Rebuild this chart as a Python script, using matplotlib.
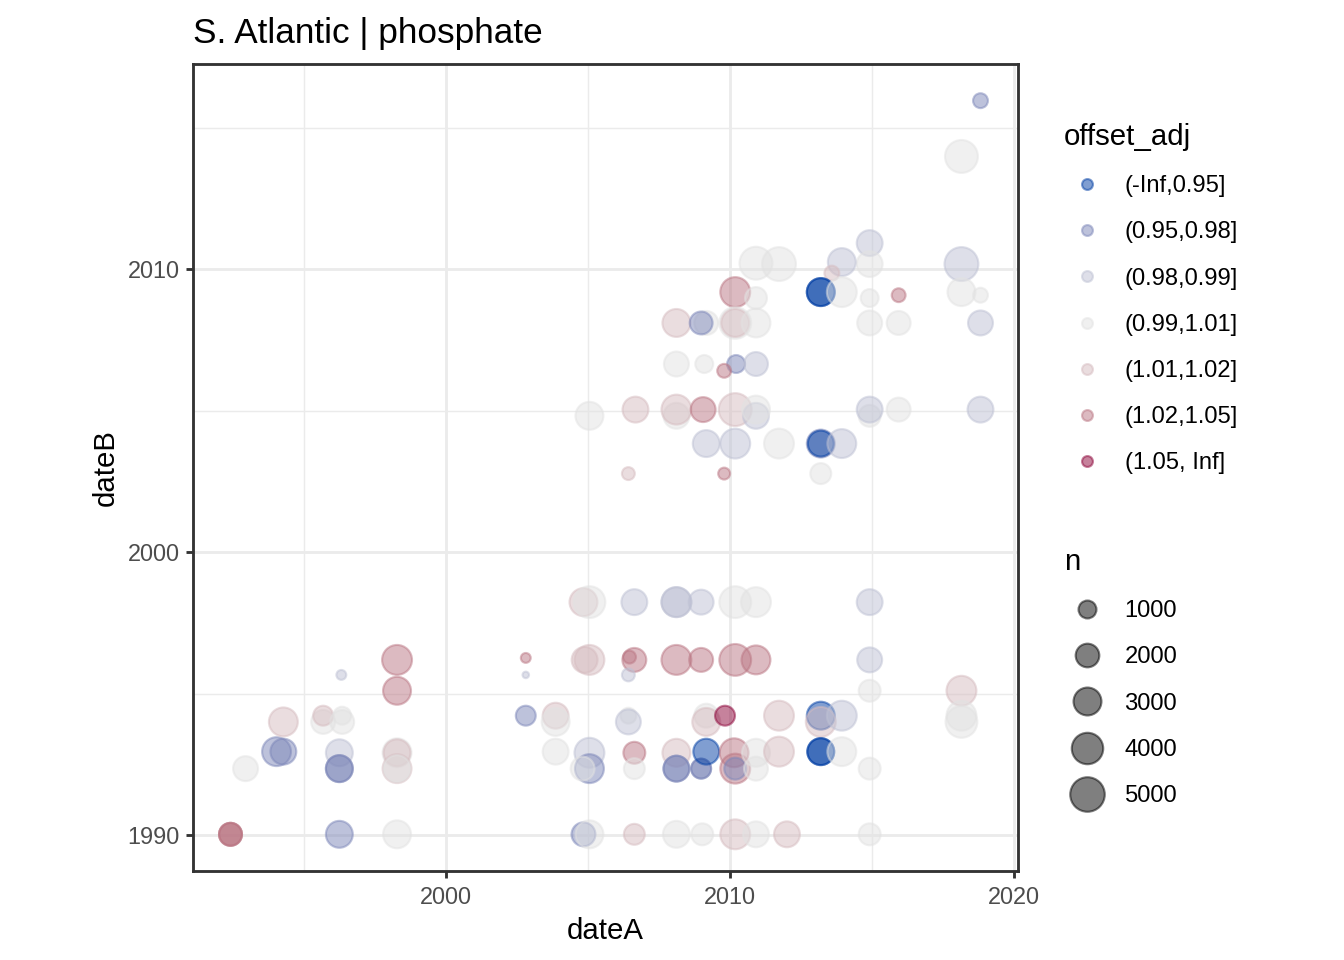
import matplotlib
matplotlib.use('Agg')
import matplotlib.pyplot as plt
from matplotlib.lines import Line2D
from matplotlib.colors import to_rgba
import numpy as np

plt.rcParams['font.family'] = ['Liberation Sans', 'DejaVu Sans']

# categories of offset_adj and their colours (diverging blue-red)
offset_labels = ['(-Inf,0.95]', '(0.95,0.98]', '(0.98,0.99]', '(0.99,1.01]',
                 '(1.01,1.02]', '(1.02,1.05]', '(1.05, Inf]']
offset_colors = ['#023FA5', '#7D87B9', '#BEC1D4', '#E2E2E2',
                 '#D6BCC0', '#BB7784', '#8E063B']
n_breaks = [1000, 2000, 3000, 4000, 5000]

# crossover points (repeated rows are stacked points)
date_a = [
    1992.42, 1992.42, 1992.42, 1992.95, 1994.04, 1994.28, 1994.28, 1995.68, 1995.68, 1996.35,
    1996.35, 1996.32, 1996.25, 1996.25, 1996.25, 1996.25, 1998.28, 1998.28, 1998.28, 1998.28,
    1998.28, 1998.28, 1998.28, 2002.81, 2002.81, 2002.81, 2003.86, 2003.86, 2003.86, 2004.84,
    2005.05, 2004.88, 2005.05, 2005.05, 2005.05, 2004.81, 2004.84, 2005.05, 2006.63, 2006.63,
    2006.46, 2006.42, 2006.42, 2006.42, 2006.63, 2006.63, 2006.63, 2008.11, 2008.11, 2008.98,
    2008.11, 2008.98, 2009.16, 2009.16, 2009.82, 2008.11, 2008.11, 2008.11, 2008.98, 2008.98,
    2009.16, 2010.14, 2010.18, 2010.18, 2010.91, 2010.91, 2008.11, 2009.02, 2010.18, 2010.91,
    2012.00, 2010.18, 2010.91, 2010.18, 2010.91, 2011.72, 2011.72, 2013.19, 2013.19, 2013.93,
    2013.19, 2013.19, 2013.93, 2014.91, 2014.91, 2014.91, 2014.91, 2014.91, 2018.14, 2018.14,
    2018.14,
    2018.81, 2018.14, 2010.91, 2011.72, 2014.91, 2014.91, 2013.93, 2013.58, 2018.14, 2010.18,
    2010.91, 2013.19, 2013.19, 2013.93, 2014.91, 2015.93, 2018.14, 2018.81, 2008.11, 2009.16,
    2008.98, 2010.18, 2010.18, 2010.91, 2014.91, 2015.93, 2018.81, 2008.11, 2009.09, 2010.21,
    2010.91, 2009.79, 2005.05, 2006.67, 2008.11, 2008.11, 2009.05, 2010.18, 2010.91, 2010.91,
    2014.91, 2014.91, 2015.93, 2018.81, 2009.16, 2010.18, 2011.72, 2013.19, 2013.19, 2013.93,
    2006.42, 2009.79, 2013.19,
]
date_b = [
    1990.04, 1990.04, 1990.04, 1992.36, 1992.96, 1992.96, 1994.01, 1994.01, 1994.23, 1994.23,
    1994.01, 1995.67, 1992.92, 1992.36, 1992.36, 1990.04, 1996.20, 1995.11, 1992.92, 1992.92,
    1992.36, 1992.36, 1990.04, 1996.27, 1995.67, 1994.23, 1994.23, 1994.01, 1992.96, 1998.24,
    1998.24, 1996.20, 1996.20, 1992.92, 1992.36, 1992.36, 1990.04, 1990.04, 1998.24, 1996.20,
    1996.30, 1995.67, 1994.23, 1994.01, 1992.92, 1992.36, 1990.04, 1998.24, 1998.24, 1998.24,
    1996.20, 1996.20, 1994.23, 1994.01, 1994.23, 1992.92, 1992.36, 1992.36, 1992.36, 1992.36,
    1992.96, 1992.92, 1992.36, 1992.36, 1992.92, 1992.36, 1990.04, 1990.04, 1990.04, 1990.04,
    1990.04, 1998.24, 1998.24, 1996.20, 1996.20, 1994.23, 1992.96, 1994.23, 1994.01, 1994.23,
    1992.96, 1992.96, 1992.96, 1998.24, 1996.20, 1995.11, 1992.36, 1990.04, 1995.11, 1994.23,
    1994.01,
    2015.95, 2013.98, 2010.21, 2010.18, 2010.92, 2010.18, 2010.25, 2009.86, 2010.18, 2009.19,
    2008.98, 2009.19, 2009.19, 2009.19, 2008.98, 2009.08, 2009.19, 2009.08, 2008.10, 2008.10,
    2008.10, 2008.10, 2008.10, 2008.10, 2008.10, 2008.10, 2008.10, 2006.65, 2006.65, 2006.65,
    2006.65, 2006.41, 2004.82, 2005.04, 2004.82, 2005.04, 2005.04, 2005.04, 2004.82, 2005.04,
    2004.82, 2005.04, 2005.04, 2005.04, 2003.84, 2003.84, 2003.84, 2003.84, 2003.84, 2003.84,
    2002.78, 2002.78, 2002.78,
]
n_obs = [
    1840, 1840, 1840, 2270, 3260, 2490, 3260, 2050, 1300, 1000,
    2050, 270, 2740, 2740, 2740, 2740, 3540, 3000, 3260, 2740,
    3260, 2740, 3000, 270, 200, 1300, 2490, 3000, 2490, 3000,
    4100, 2490, 3540, 3540, 3260, 2050, 2050, 3000, 2490, 2050,
    450, 450, 740, 2270, 1650, 1470, 1470, 3540, 3540, 2270,
    3540, 2050, 2050, 3000, 1300, 3000, 2490, 2490, 1300, 1300,
    2490, 3260, 3540, 1650, 3000, 2050, 2740, 1650, 3540, 2490,
    2490, 4100, 3540, 4100, 3260, 3540, 3540, 3000, 3540, 3540,
    2740, 2740, 3260, 2490, 2270, 1650, 1650, 1650, 3540, 3540,
    4100,
    630, 4450, 4450, 4770, 2490, 2490, 3000, 630, 4770, 3540,
    1650, 3000, 3000, 3540, 1000, 530, 3000, 630, 3000, 2050,
    1840, 4100, 3000, 3260, 2270, 2050, 2270, 2270, 1000, 1000,
    2050, 530, 3000, 2490, 2490, 3540, 2270, 4450, 2490, 3000,
    1650, 2490, 2050, 2490, 2740, 3540, 3540, 3000, 2490, 3260,
    450, 380, 1470,
]
offset_bin = [
    5, 5, 5, 3, 1, 1, 4, 3, 4, 3,
    3, 2, 2, 1, 1, 1, 5, 5, 3, 4,
    4, 3, 3, 5, 2, 1, 4, 3, 3, 4,
    3, 4, 4, 2, 1, 3, 1, 3, 2, 5,
    5, 2, 3, 2, 5, 3, 4, 2, 2, 2,
    5, 5, 3, 4, 6, 4, 1, 1, 1, 1,
    0, 5, 5, 1, 3, 3, 3, 3, 4, 3,
    4, 3, 3, 5, 5, 4, 4, 0, 4, 2,
    0, 0, 3, 2, 2, 3, 3, 3, 4, 3,
    3,
    1, 3, 3, 3, 2, 3, 2, 4, 2, 5,
    3, 0, 0, 3, 3, 5, 3, 3, 4, 3,
    1, 3, 4, 3, 3, 3, 2, 3, 3, 1,
    2, 5, 3, 4, 3, 4, 5, 4, 2, 3,
    3, 2, 3, 2, 2, 2, 3, 1, 0, 2,
    4, 5, 3,
]

DPI = 192
PX_PT = DPI / 72
EDGE = 0.8
ALPHA = 0.5


def point_diameter(n):
    # size scale (area grows with n)
    t = np.clip((np.asarray(n, float) - 200) / 8800, 0, 1)
    d_px = 7.6 * (1 + 5 * np.sqrt(t)) + 1
    return d_px / PX_PT - EDGE


fig = plt.figure(figsize=(7, 5), dpi=DPI)
ax = fig.add_axes([193 / 1344, 1 - 871 / 960, 825 / 1344, 807 / 960])

cols = [to_rgba(offset_colors[k], ALPHA) for k in offset_bin]
ax.scatter(date_a, date_b, s=point_diameter(n_obs) ** 2, c=cols,
           edgecolors=cols, linewidths=EDGE, zorder=3)

# ggplot-like 5% expansion
xa, xb = min(date_a), max(date_a)
ya, yb = min(date_b), max(date_b)
ax.set_xlim(xa - 0.05 * (xb - xa), xb + 0.05 * (xb - xa))
ax.set_ylim(ya - 0.05 * (yb - ya), yb + 0.05 * (yb - ya))

ax.set_xticks([2000, 2010, 2020])
ax.set_yticks([1990, 2000, 2010])
ax.set_xticks([1995, 2005, 2015], minor=True)
ax.set_yticks([1995, 2005, 2015], minor=True)
ax.grid(which='major', color='#ebebeb', linewidth=1.07, zorder=0)
ax.grid(which='minor', color='#ebebeb', linewidth=0.53, zorder=0)
ax.set_axisbelow(True)
ax.tick_params(which='major', length=2.75, width=1.07, color='#333333',
               labelsize=8.8, labelcolor='#4d4d4d', pad=2.2)
ax.tick_params(axis='x', which='major', pad=2.9)
ax.tick_params(which='minor', length=0)
for sp in ax.spines.values():
    sp.set_color('#333333')
    sp.set_linewidth(1.07)

ax.set_xlabel('dateA', fontsize=11, labelpad=3)
ax.set_ylabel('dateB', fontsize=11, labelpad=3)
ax.set_title('S. Atlantic | phosphate', loc='left', fontsize=13.2, pad=8.0)

# legends
h_col = [Line2D([], [], ls='', marker='o', markersize=13 / PX_PT - EDGE,
                markerfacecolor=to_rgba(c, ALPHA), markeredgecolor=to_rgba(c, ALPHA),
                markeredgewidth=EDGE) for c in offset_colors]
fig.legend(h_col, offset_labels, loc='upper left',
           bbox_to_anchor=(1064 / 1344, 1 - 123 / 960), frameon=False,
           title='offset_adj', title_fontsize=11, fontsize=8.9, alignment='left',
           handlelength=1.9, handletextpad=0.65, labelspacing=1.02,
           borderpad=0, borderaxespad=0)

h_n = [Line2D([], [], ls='', marker='o', markersize=float(point_diameter(b)),
              markerfacecolor=(0, 0, 0, ALPHA), markeredgecolor=(0, 0, 0, ALPHA),
              markeredgewidth=EDGE) for b in n_breaks]
fig.legend(h_n, [str(b) for b in n_breaks], loc='upper left',
           bbox_to_anchor=(1064 / 1344, 1 - 548 / 960), frameon=False,
           title='n', title_fontsize=11, fontsize=8.9, alignment='left',
           handlelength=1.9, handletextpad=0.65, labelspacing=1.02,
           borderpad=0, borderaxespad=0)

fig.savefig('out.png', dpi=DPI)
